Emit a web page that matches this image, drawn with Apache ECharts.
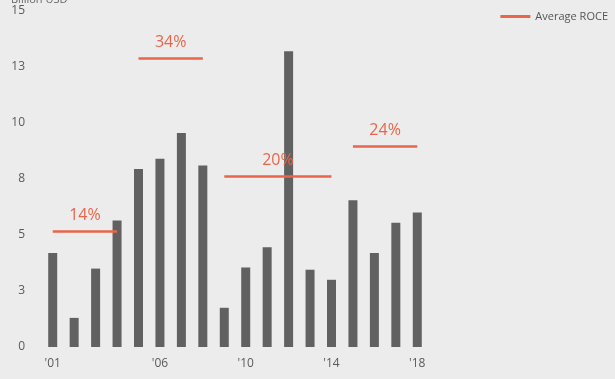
<!DOCTYPE html>
<html>
<head>
<meta charset="utf-8">
<script src="https://cdn.jsdelivr.net/npm/echarts@6/dist/echarts.min.js"></script>
<style>
html,body{margin:0;padding:0;background:#ececec;}
#c{width:615px;height:379px;}
</style>
</head>
<body>
<div id="c"></div>
<script>
// Data
const years = ['2001','2002','2003','2004','2005','2006','2007','2008','2009','2010','2011','2012','2013','2014','2015','2016','2017','2018'];
const investment = [4.2, 1.3, 3.5, 5.65, 7.95, 8.4, 9.55, 8.1, 1.75, 3.55, 4.45, 13.2, 3.45, 3.0, 6.55, 4.2, 5.55, 6.0];
const tickYears = ['2001','2006','2010','2014','2018'];
const roceStart = ['2001','2005','2009','2015'];
const roceEnd = ['2004','2008','2014','2018'];
const roceLevel = [5.15, 12.9, 7.62, 8.95];
const roceLabel = ['14%','34%','20%','24%'];

const orange = '#e8664a';
const font = '"Open Sans", "Noto Sans", sans-serif';

const markData = roceStart.map((s, i) => [
  { coord: [s, roceLevel[i]], label: { formatter: roceLabel[i] } },
  { coord: [roceEnd[i], roceLevel[i]] }
]);

const chart = echarts.init(document.getElementById('c'));
chart.setOption({
  backgroundColor: '#ececec',
  animation: false,
  textStyle: { fontFamily: font },
  title: {
    text: 'Billion USD', left: 6, top: -11,
    textStyle: { fontSize: 11, fontWeight: 'normal', color: '#666', fontFamily: font }
  },
  legend: {
    data: ['Average ROCE'], right: 2, top: 6,
    itemWidth: 30, itemHeight: 3, itemGap: 8,
    icon: 'rect',
    textStyle: { fontSize: 11, color: '#555', fontFamily: font }
  },
  grid: { left: 42, right: 187, top: 11, bottom: 32 },
  xAxis: {
    type: 'category', data: years,
    axisLine: { show: false }, axisTick: { show: false },
    axisLabel: {
      interval: (i, v) => tickYears.indexOf(v) >= 0,
      formatter: v => "'" + v.slice(2),
      color: '#5a5a5a', fontSize: 12, margin: 11, fontFamily: font
    }
  },
  yAxis: {
    type: 'value', min: 0, max: 15, interval: 2.5,
    splitLine: { show: false },
    axisLabel: { formatter: v => String(Math.round(v)), color: '#5a5a5a', fontSize: 12, margin: 17, fontFamily: font }
  },
  series: [
    {
      type: 'bar', name: 'Investment', data: investment,
      barWidth: 9, itemStyle: { color: '#616161' }
    },
    {
      type: 'line', name: 'Average ROCE', data: [],
      lineStyle: { color: orange, width: 3 }, itemStyle: { color: orange },
      markLine: {
        silent: true, symbol: ['none', 'none'],
        lineStyle: { color: orange, width: 2.5, type: 'solid' },
        label: { show: true, position: 'middle', color: orange, fontSize: 16, distance: 8, fontFamily: font },
        data: markData
      }
    }
  ]
});
</script>
</body>
</html>
